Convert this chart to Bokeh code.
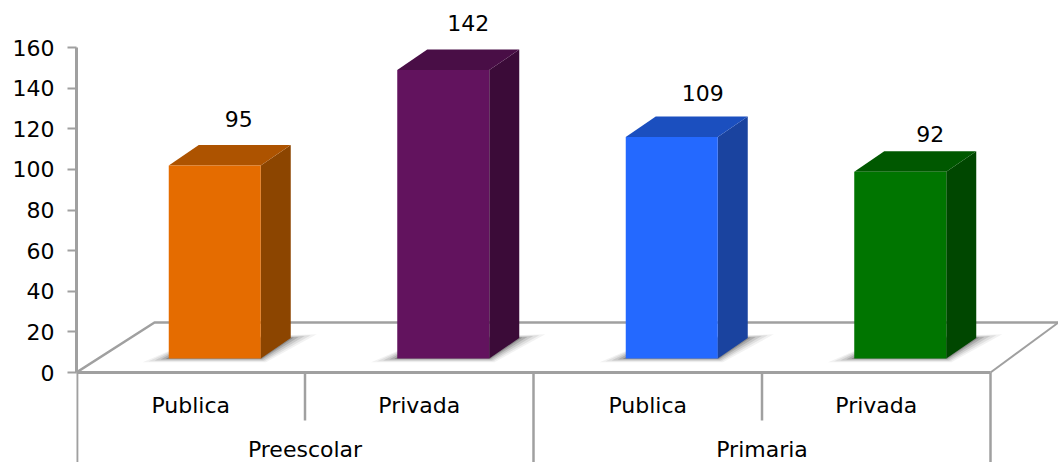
from bokeh.plotting import figure
from bokeh.models import Range1d, FixedTicker
from bokeh.embed import file_html
from bokeh.resources import INLINE
from bokeh.core.properties import value

# ---- data ----
groups = ["Preescolar", "Primaria"]
categories = ["Publica", "Privada", "Publica", "Privada"]
values = [95, 142, 109, 92]
y_ticks = [0, 20, 40, 60, 80, 100, 120, 140, 160]
front_colors = ["#E56C00", "#62135E", "#2469FF", "#007500"]
top_colors = ["#AD5300", "#490E46", "#1B4FBF", "#005800"]
side_colors = ["#8C4500", "#3B0B38", "#1A439F", "#004700"]

# ---- layout constants (page pixels) ----
PW, PH = 1058, 462
AX_L, SLOT = 76.0, 228.5
Y0, UNIT = 372.0, 325.0 / 160.0
X = lambda px: (px - AX_L) / SLOT
Y = lambda py: (Y0 - py) / UNIT
DX, DY = 30 / SLOT, 20.5 / UNIT       # depth of the bars
BASE = Y(358)                         # where a bar stands on the floor
BAR_W = 92 / SLOT
BAR_SHIFT = 24 / SLOT
GREY = "#A0A0A0"
FONT = value("DejaVu Sans")
FS = "22px"

p = figure(width=PW, height=PH, output_backend="svg", toolbar_location=None,
           x_range=Range1d(X(76), X(1058)), y_range=Range1d(Y(462), Y(0)),
           x_axis_location=None, min_border_left=76, min_border_right=0,
           min_border_top=0, min_border_bottom=0, outline_line_color=None)
p.xgrid.visible = False
p.ygrid.visible = False
p.background_fill_color = "white"

ax = p.yaxis[0]
ax.ticker = FixedTicker(ticks=y_ticks)
ax.bounds = (0, 160)
ax.axis_line_color = GREY
ax.axis_line_width = 3
ax.major_tick_line_color = GREY
ax.major_tick_line_width = 2
ax.major_tick_out = 9
ax.major_tick_in = 0
ax.minor_tick_line_color = None
ax.major_label_text_font = "DejaVu Sans"
ax.major_label_text_font_size = FS
ax.major_label_text_color = "#000000"
ax.major_label_standoff = 13

# floor and category frame
p.line([X(76), X(154), X(1058)], [Y(372), Y(322), Y(322)], line_color=GREY, line_width=2.5)
p.line([X(990), X(1058)], [Y(372), Y(322)], line_color=GREY, line_width=2)
p.line([X(76), X(990)], [Y(372), Y(372)], line_color=GREY, line_width=3)
p.segment([X(76.6), X(990)], [Y(372)] * 2, [X(76.6), X(990)], [Y(462)] * 2, line_color=GREY, line_width=2.5)
p.segment(x0=[1, 3], y0=[Y(372)] * 2, x1=[1, 3], y1=[Y(420)] * 2, line_color=GREY, line_width=2.5)
p.segment(x0=[2], y0=[Y(372)], x1=[2], y1=[Y(462)], line_color=GREY, line_width=2.5)

# bars
label_nudge_x = [24, 25, 31, 30]
label_nudge_y = [26, 27, 24, 17]
for i, v in enumerate(values):
    l = i + 0.5 + BAR_SHIFT - BAR_W / 2
    r = l + BAR_W
    t = BASE + v
    for e, a in ((26, 0.07), (20, 0.10), (14, 0.14), (8, 0.2), (3, 0.3)):
        ex, ey = e / SLOT, e * 0.14 / UNIT
        p.patch([l - ex, r + ex * 0.2, r + DX + ex, l + DX],
                [BASE - ey, BASE - ey, BASE + DY + ey, BASE + DY],
                fill_color="#404040", fill_alpha=a, line_color=None)
    p.patch([r, r + DX, r + DX, r], [BASE, BASE + DY, t + DY, t],
            fill_color=side_colors[i], line_color=None)
    p.patch([l, r, r + DX, l + DX], [t, t, t + DY, t + DY],
            fill_color=top_colors[i], line_color=None)
    p.quad(left=l, right=r, bottom=BASE, top=t, fill_color=front_colors[i], line_color=None)
    p.text([i + 0.5 + BAR_SHIFT + label_nudge_x[i] / SLOT],
           [t + DY + label_nudge_y[i] / UNIT], text=[str(v)],
           text_font=FONT, text_font_size=FS, text_color="#000000",
           text_align="center", text_baseline="middle")

# category labels
p.text([i + 0.5 for i in range(4)], [Y(405)] * 4, text=categories,
       text_font=FONT, text_font_size=FS, text_color="#000000",
       text_align="center", text_baseline="middle")
p.text([1, 3], [Y(449)] * 2, text=groups,
       text_font=FONT, text_font_size=FS, text_color="#000000",
       text_align="center", text_baseline="middle")

open("out.html", "w").write(file_html(p, INLINE))
